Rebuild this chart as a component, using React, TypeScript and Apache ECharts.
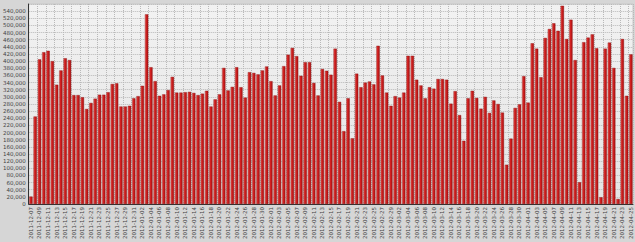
import React, { useEffect, useRef } from "react";
import * as echarts from "echarts";

const startDate = "2011-12-07";
const dayCount = 141;

const values: number[] = [
  21000, 245000, 405000, 425000, 429000, 400000, 334000, 374000, 408000, 403000,
  305000, 305000, 299000, 266000, 283000, 295000, 306000, 306000, 313000, 336000,
  338000, 273000, 273000, 275000, 296000, 302000, 331000, 531000, 383000, 344000,
  303000, 307000, 319000, 356000, 312000, 312000, 313000, 314000, 311000, 305000,
  309000, 317000, 273000, 293000, 307000, 381000, 318000, 328000, 383000, 327000,
  298000, 369000, 367000, 363000, 374000, 385000, 344000, 304000, 332000, 386000,
  418000, 437000, 414000, 359000, 397000, 397000, 339000, 304000, 378000, 373000,
  362000, 435000, 286000, 204000, 296000, 184000, 365000, 327000, 340000, 343000,
  335000, 443000, 360000, 312000, 275000, 302000, 298000, 312000, 415000, 415000,
  348000, 332000, 296000, 327000, 323000, 350000, 350000, 348000, 281000, 316000,
  249000, 177000, 296000, 317000, 297000, 267000, 300000, 255000, 290000, 280000,
  256000, 110000, 183000, 269000, 279000, 358000, 284000, 450000, 435000, 355000,
  465000, 490000, 506000, 485000, 555000, 462000, 516000, 403000, 61000, 453000,
  466000, 475000, 436000, 19000, 435000, 452000, 381000, 14000, 462000, 303000,
  419000,
];

function buildDates(start: string, n: number): string[] {
  const out: string[] = [];
  const [y, m, d] = start.split("-").map(Number);
  const base = Date.UTC(y, m - 1, d);
  for (let i = 0; i < n; i++) {
    const dt = new Date(base + i * 86400000);
    const mm = String(dt.getUTCMonth() + 1).padStart(2, "0");
    const dd = String(dt.getUTCDate()).padStart(2, "0");
    out.push(`${dt.getUTCFullYear()}-${mm}-${dd}`);
  }
  return out;
}

const categories = buildDates(startDate, dayCount);

export default function App() {
  const ref = useRef<HTMLDivElement>(null);
  useEffect(() => {
    if (!ref.current) return;
    const chart = echarts.init(ref.current, undefined, { renderer: "svg" });
    chart.setOption({
      animation: false,
      backgroundColor: "#d6d6d6",
      grid: {
        left: 25,
        right: 2,
        top: 4,
        bottom: 33,
        show: true,
        backgroundColor: new echarts.graphic.LinearGradient(0, 0, 0, 1, [
          { offset: 0, color: "#f2f2f2" },
          { offset: 1, color: "#e4e4e4" },
        ]),
        borderColor: "#c8c8c8",
        borderWidth: 1,
      },
      xAxis: {
        type: "category",
        data: categories,
        boundaryGap: true,
        axisLine: { lineStyle: { color: "#333", width: 1 } },
        axisTick: { show: false },
        axisLabel: {
          interval: 1,
          rotate: 90,
          fontSize: 5.5,
          color: "#444",
          margin: 3,
          fontFamily: "DejaVu Sans",
        },
        splitLine: {
          show: true,
          interval: 1,
          lineStyle: { color: "#b8b8b8", type: "dotted", width: 1 },
        },
      },
      yAxis: {
        type: "value",
        min: 0,
        max: 560000,
        interval: 20000,
        axisLine: { show: true, lineStyle: { color: "#333", width: 1 } },
        axisTick: { show: false },
        axisLabel: {
          showMaxLabel: false,
          fontSize: 5.5,
          color: "#444",
          margin: 3,
          fontFamily: "DejaVu Sans",
          formatter: (v: number) => v.toLocaleString("en-US"),
        },
        splitLine: {
          show: true,
          lineStyle: { color: "#b8b8b8", type: "dotted", width: 1 },
        },
      },
      series: [
        {
          type: "bar",
          data: values,
          barCategoryGap: "22%",
          itemStyle: {
            color: new echarts.graphic.LinearGradient(0, 0, 1, 0, [
              { offset: 0, color: "#e8706a" },
              { offset: 0.35, color: "#d42222" },
              { offset: 1, color: "#a81212" },
            ]),
            borderColor: "#8a0c0c",
            borderWidth: 0.4,
          },
        },
      ],
    });
    return () => chart.dispose();
  }, []);
  return (
    <div
      ref={ref}
      style={{ position: "absolute", left: 0, top: 0, width: 635, height: 242 }}
    />
  );
}
